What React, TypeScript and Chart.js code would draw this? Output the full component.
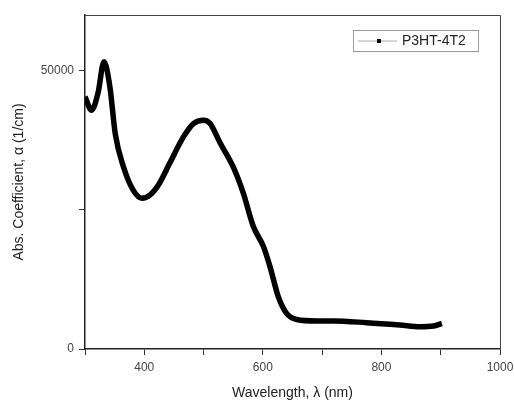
import React, { useEffect, useRef } from "react";
import { Chart, registerables } from "chart.js";

Chart.register(...registerables);

const wavelength = [300, 311, 322, 332, 342, 351, 365, 381, 396, 410, 424, 443, 466, 483, 500, 511, 528, 550, 567, 584, 601, 612, 626, 640, 657, 691, 719, 775, 831, 865, 888, 902];
const absCoeff = [45300, 42900, 46000, 51600, 47100, 38700, 32700, 28600, 27100, 27700, 29500, 33400, 38100, 40500, 41100, 40500, 37000, 32700, 28000, 22000, 18400, 14800, 9400, 6400, 5300, 5030, 5030, 4730, 4310, 4010, 4130, 4610];
const xTickLabels = [400, 600, 800, 1000];
const yTickLabels = [0, 50000];
const seriesName = "P3HT-4T2";

const FONT = "'Liberation Sans', Arial, sans-serif";

const framePlugin = {
  id: "frame",
  afterDraw(chart: any) {
    const { ctx, chartArea: a } = chart;
    ctx.save();
    ctx.strokeStyle = "#444";
    ctx.lineWidth = 1;
    ctx.beginPath();
    ctx.moveTo(a.left, a.top + 0.5);
    ctx.lineTo(a.right + 0.5, a.top + 0.5);
    ctx.lineTo(a.right + 0.5, a.bottom);
    ctx.stroke();
    // legend
    const bx = 353, by = 30, bw = 125, bh = 21;
    ctx.fillStyle = "#fff";
    ctx.fillRect(bx, by, bw, bh);
    ctx.strokeStyle = "#999";
    ctx.strokeRect(bx + 0.5, by + 0.5, bw, bh);
    const cy = by + bh / 2 + 0.5;
    ctx.strokeStyle = "#aaa";
    ctx.beginPath();
    ctx.moveTo(358, cy);
    ctx.lineTo(397, cy);
    ctx.stroke();
    ctx.fillStyle = "#000";
    ctx.fillRect(377, cy - 2, 4, 4);
    ctx.fillStyle = "#222";
    ctx.font = `14px ${FONT}`;
    ctx.textBaseline = "middle";
    ctx.textAlign = "left";
    ctx.fillText(seriesName, 402, cy);
    ctx.restore();
  },
};

export default function App() {
  const ref = useRef<HTMLCanvasElement>(null);
  useEffect(() => {
    const chart = new Chart(ref.current!, {
      type: "scatter",
      data: {
        datasets: [
          {
            label: seriesName,
            data: wavelength.map((w, i) => ({ x: w, y: absCoeff[i] })),
            showLine: true,
            borderColor: "#000",
            backgroundColor: "#000",
            borderWidth: 5.5,
            pointRadius: 0,
            tension: 0.4,
            cubicInterpolationMode: "monotone",
          },
        ],
      },
      options: {
        animation: false,
        responsive: false,
        maintainAspectRatio: false,
        layout: { padding: { top: 15, right: 14, left: 0, bottom: 0 } },
        plugins: { legend: { display: false }, tooltip: { enabled: false } },
        scales: {
          x: {
            type: "linear",
            min: 300,
            max: 1000,
            ticks: {
              stepSize: 100,
              autoSkip: false,
              maxRotation: 0,
              color: "#444",
              font: { family: FONT, size: 12 },
              padding: 5,
              callback: (v: any) => (xTickLabels.includes(Number(v)) ? String(v) : ""),
            },
            grid: { drawOnChartArea: false, drawTicks: true, tickLength: 6, color: "#333", tickColor: "#333" },
            border: { color: "#222", width: 1.5 },
            title: {
              display: true,
              text: "Wavelength, λ (nm)",
              color: "#222",
              font: { family: FONT, size: 14 },
              padding: { top: 4, bottom: 0 },
            },
            afterFit: (s: any) => {
              s.height = 53;
              s.paddingRight = 0;
              s.paddingLeft = 0;
            },
          },
          y: {
            type: "linear",
            min: 0,
            max: 60000,
            ticks: {
              stepSize: 25000,
              color: "#444",
              font: { family: FONT, size: 12 },
              padding: 5,
              callback: (v: any) => (yTickLabels.includes(Number(v)) ? String(v) : ""),
            },
            afterBuildTicks: (s: any) => {
              s.ticks = [0, 25000, 50000].map((v) => ({ value: v }));
            },
            grid: { drawOnChartArea: false, drawTicks: true, tickLength: 6, color: "#333", tickColor: "#333" },
            border: { color: "#222", width: 1.5 },
            title: {
              display: true,
              text: "Abs. Coefficient, α (1/cm)",
              color: "#222",
              font: { family: FONT, size: 14 },
              padding: { top: 11, bottom: 0 },
            },
            afterFit: (s: any) => {
              s.width = 85;
              s.paddingTop = 0;
              s.paddingBottom = 0;
            },
          },
        },
      },
      plugins: [framePlugin],
    } as any);
    return () => chart.destroy();
  }, []);
  return (
    <div style={{ position: "fixed", left: 0, top: 0, width: 514, height: 402, background: "#fff" }}>
      <canvas ref={ref} width={514} height={402} style={{ display: "block" }} />
    </div>
  );
}
